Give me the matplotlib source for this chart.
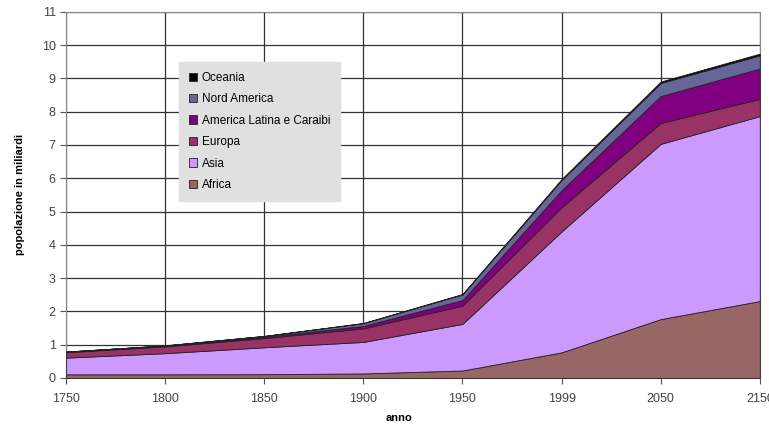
import matplotlib.pyplot as plt
import numpy as np

plt.rcParams['font.family'] = ['Liberation Sans', 'DejaVu Sans']

anni = ["1750", "1800", "1850", "1900", "1950", "1999", "2050", "2150"]
# popolazione in miliardi per regione
africa = [0.106, 0.107, 0.111, 0.133, 0.221, 0.767, 1.766, 2.308]
asia = [0.502, 0.635, 0.809, 0.947, 1.402, 3.634, 5.268, 5.561]
europa = [0.163, 0.203, 0.276, 0.408, 0.547, 0.729, 0.628, 0.517]
america_latina = [0.016, 0.024, 0.038, 0.074, 0.167, 0.511, 0.809, 0.912]
nord_america = [0.002, 0.007, 0.026, 0.082, 0.172, 0.307, 0.392, 0.398]
oceania = [0.002, 0.002, 0.002, 0.006, 0.013, 0.030, 0.046, 0.051]

labels = ["Africa", "Asia", "Europa", "America Latina e Caraibi", "Nord America", "Oceania"]
colors = ["#996666", "#CC99FF", "#993366", "#800080", "#666699", "#000000"]

fig = plt.figure(figsize=(7.69, 4.26), dpi=100)
ax = fig.add_axes([0.086, 0.113, 0.902, 0.859])

x = np.arange(len(anni))
ax.stackplot(x, africa, asia, europa, america_latina, nord_america, oceania,
             labels=labels, colors=colors, edgecolor="#222222", linewidth=0.6,
             zorder=3)

ax.set_xlim(0, len(anni) - 1)
ax.set_ylim(0, 11)
ax.set_xticks(x)
ax.set_xticklabels(anni)
ax.set_yticks(range(0, 12))
ax.tick_params(labelsize=9, colors="#555555", length=4, width=0.8, labelcolor="#444444")
ax.tick_params(axis="x", pad=7)
ax.grid(True, color="#333333", linewidth=0.9, zorder=0)
ax.set_axisbelow(True)
for s in ax.spines.values():
    s.set_color("#888888")

ax.set_xlabel("anno", fontsize=8, fontweight="bold")
ax.xaxis.set_label_coords(0.48, -0.095)
ax.set_ylabel("popolazione in miliardi", fontsize=8, fontweight="bold", labelpad=12)

handles, labs = ax.get_legend_handles_labels()
leg = ax.legend(handles[::-1], labs[::-1], loc="upper left", bbox_to_anchor=(0.163, 0.862),
                fontsize=8.5, frameon=True, fancybox=False, handlelength=0.7, handleheight=0.7,
                labelspacing=0.8, borderpad=0.8, handletextpad=0.4, borderaxespad=0)
leg.get_frame().set_facecolor("#E0E0E0")
leg.get_frame().set_edgecolor("#E0E0E0")
leg.get_frame().set_alpha(1)
leg.set_zorder(5)

fig.savefig("out.png", dpi=100)
